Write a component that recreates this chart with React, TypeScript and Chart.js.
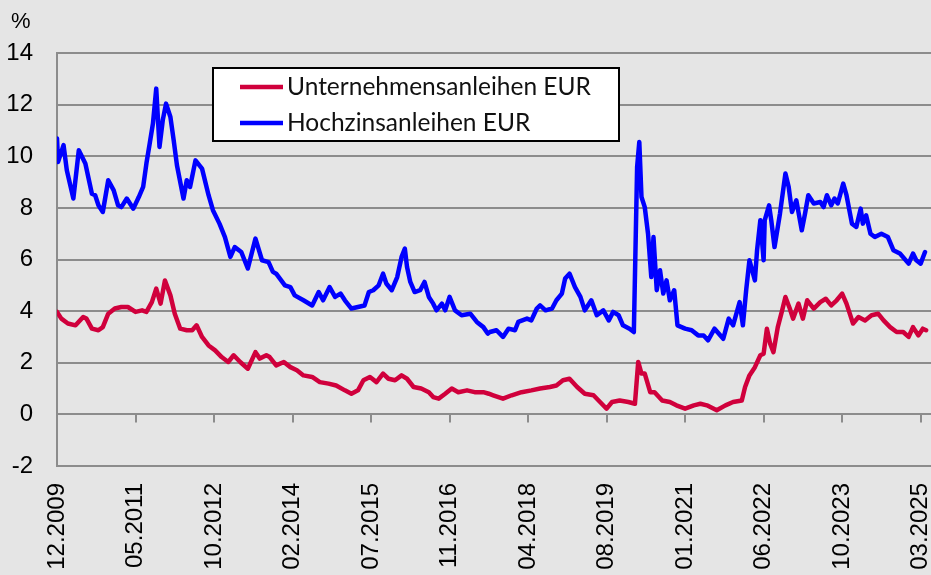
import React, { useEffect, useRef } from "react";
import { Chart, registerables } from "chart.js";

Chart.register(...registerables);

// x axis: weeks since 12.2009; Excel-style category ticks every 72 weeks
const tickLabels = [
  "12.2009", "05.2011", "10.2012", "02.2014", "07.2015", "11.2016",
  "04.2018", "08.2019", "01.2021", "06.2022", "10.2023", "03.2025",
];
const weeksPerTick = 72;
const xMax = 801.5;

const yTicksMin = -2;
const yTicksMax = 14;
const yStep = 2;

const corpLabel = "Unternehmensanleihen EUR";
const hyLabel = "Hochzinsanleihen EUR";

const hyWeeks = [
  0, 1, 6, 9, 15, 20, 26, 32, 35, 38,
  42, 47, 52, 56, 59, 64, 70, 75, 79, 82,
  85, 88, 91, 94, 97, 100, 104, 107, 110, 116,
  119, 122, 127, 133, 139, 143, 149, 154, 159, 163,
  169, 175, 182, 188, 194, 198, 201, 209, 214, 218,
  226, 234, 240, 244, 250, 255, 260, 264, 270, 276,
  282, 286, 290, 295, 299, 302, 307, 312, 316, 319,
  321, 324, 328, 333, 337, 341, 345, 348, 353, 356,
  360, 365, 371, 379, 385, 391, 395, 397, 403, 409,
  414, 420, 423, 431, 435, 440, 443, 448, 454, 458,
  463, 466, 470, 475, 480, 484, 490, 495, 501, 506,
  510, 515, 519, 525, 529, 532, 534, 536, 539, 542,
  545, 547, 550, 553, 556, 559, 562, 566, 569, 576,
  582, 588, 593, 597, 603, 611, 616, 620, 626, 629,
  632, 635, 640, 642, 645, 648, 649, 653, 655, 658,
  663, 668, 671, 674, 678, 683, 686, 689, 694, 700,
  703, 706, 710, 713, 716, 721, 724, 729, 733, 737,
  739, 742, 746, 750, 756, 762, 767, 773, 781, 785,
  788, 792, 796,
];
const hyValues = [
  10.69, 9.78, 10.43, 9.46, 8.36, 10.23, 9.72, 8.55, 8.49, 8.1,
  7.84, 9.07, 8.68, 8.1, 8.03, 8.36, 7.97, 8.42, 8.81, 9.72,
  10.49, 11.27, 12.62, 10.36, 11.4, 12.04, 11.52, 10.62, 9.65, 8.36,
  9.07, 8.81, 9.84, 9.52, 8.49, 7.91, 7.39, 6.87, 6.1, 6.48,
  6.29, 5.65, 6.81, 5.97, 5.9, 5.52, 5.45, 5.0, 4.93, 4.61,
  4.42, 4.22, 4.74, 4.42, 4.93, 4.55, 4.68, 4.42, 4.1, 4.16,
  4.22, 4.74, 4.81, 5.0, 5.45, 5.07, 4.81, 5.32, 6.1, 6.42,
  5.71, 5.13, 4.74, 4.81, 5.13, 4.55, 4.29, 4.03, 4.29, 4.03,
  4.55, 4.03, 3.84, 3.9, 3.58, 3.38, 3.13, 3.19, 3.26, 3.0,
  3.32, 3.26, 3.58, 3.71, 3.64, 4.1, 4.22, 4.03, 4.1, 4.42,
  4.68, 5.26, 5.45, 4.93, 4.55, 4.03, 4.42, 3.84, 4.03, 3.64,
  3.97, 3.84, 3.45, 3.32, 3.19, 9.59, 10.55, 8.42, 8.03, 7.0,
  5.32, 6.87, 4.81, 5.58, 4.68, 5.19, 4.42, 4.81, 3.45, 3.32,
  3.26, 3.06, 3.06, 2.87, 3.32, 2.93, 3.71, 3.45, 4.35, 3.45,
  4.81, 5.97, 5.19, 6.36, 7.52, 5.97, 7.52, 8.1, 7.52, 6.48,
  7.78, 9.33, 8.81, 7.84, 8.29, 7.13, 7.78, 8.49, 8.17, 8.23,
  8.03, 8.49, 8.1, 8.36, 8.17, 8.94, 8.49, 7.39, 7.26, 7.97,
  7.39, 7.71, 7.0, 6.87, 7.0, 6.87, 6.36, 6.23, 5.84, 6.23,
  5.97, 5.84, 6.29,
];

const corpWeeks = [
  0, 4, 10, 17, 24, 27, 32, 38, 42, 47,
  53, 59, 65, 72, 78, 82, 87, 91, 95, 99,
  104, 108, 113, 119, 124, 128, 133, 139, 145, 151,
  157, 162, 168, 175, 182, 186, 192, 195, 201, 208,
  214, 220, 226, 234, 241, 249, 256, 264, 270, 276,
  281, 287, 293, 299, 304, 310, 316, 321, 327, 334,
  341, 345, 350, 356, 362, 368, 376, 383, 391, 396,
  400, 409, 417, 426, 435, 443, 452, 458, 464, 470,
  477, 484, 492, 498, 504, 509, 516, 524, 530, 533,
  536, 539, 544, 548, 555, 562, 568, 576, 584, 590,
  596, 605, 613, 620, 628, 631, 635, 640, 645, 648,
  651, 654, 657, 661, 665, 668, 672, 675, 680, 684,
  688, 694, 700, 705, 710, 715, 720, 724, 730, 735,
  741, 747, 753, 758, 764, 770, 776, 781, 785, 790,
  794, 797,
];
const corpValues = [
  3.97, 3.71, 3.52, 3.45, 3.77, 3.71, 3.32, 3.26, 3.38, 3.9,
  4.1, 4.16, 4.16, 3.97, 4.03, 3.97, 4.35, 4.87, 4.29, 5.19,
  4.61, 3.9, 3.32, 3.26, 3.26, 3.45, 3.0, 2.67, 2.48, 2.22,
  2.03, 2.29, 2.03, 1.77, 2.41, 2.16, 2.29, 2.22, 1.9, 2.03,
  1.83, 1.71, 1.51, 1.45, 1.25, 1.19, 1.12, 0.93, 0.8, 0.93,
  1.32, 1.45, 1.25, 1.58, 1.38, 1.32, 1.51, 1.38, 1.06, 1.0,
  0.86, 0.67, 0.61, 0.8, 1.0, 0.86, 0.93, 0.86, 0.86, 0.8,
  0.74, 0.61, 0.74, 0.86, 0.93, 1.0, 1.06, 1.12, 1.32, 1.38,
  1.06, 0.8, 0.74, 0.48, 0.22, 0.48, 0.54, 0.48, 0.41, 2.03,
  1.58, 1.58, 0.86, 0.86, 0.54, 0.48, 0.35, 0.22, 0.35, 0.41,
  0.35, 0.16, 0.35, 0.48, 0.54, 1.06, 1.51, 1.83, 2.29, 2.35,
  3.32, 2.74, 2.41, 3.38, 4.03, 4.55, 4.1, 3.71, 4.29, 3.71,
  4.42, 4.1, 4.35, 4.48, 4.22, 4.42, 4.68, 4.29, 3.52, 3.77,
  3.64, 3.84, 3.9, 3.64, 3.38, 3.19, 3.19, 3.0, 3.38, 3.06,
  3.32, 3.26,
];

const RED = "#d0003c";
const BLUE = "#0000ff";
const GRID = "#8c8c8c";
const BG = "#e5e5e5";
const AXIS_FONT = "Liberation Sans";
const LEGEND_FONT = "Lato";

export default function App() {
  const ref = useRef<HTMLCanvasElement>(null);

  useEffect(() => {
    const canvas = ref.current;
    if (!canvas) return;

    const bgPlugin = {
      id: "bgFill",
      beforeDraw(chart: any) {
        const ctx = chart.ctx;
        ctx.save();
        ctx.fillStyle = BG;
        ctx.fillRect(0, 0, chart.width, chart.height);
        ctx.restore();
      },
    };

    const zeroTicksPlugin = {
      id: "zeroTicks",
      beforeDatasetsDraw(chart: any) {
        const ctx = chart.ctx;
        const xs = chart.scales.x;
        const ys = chart.scales.y;
        const y0 = ys.getPixelForValue(0);
        ctx.save();
        ctx.strokeStyle = GRID;
        ctx.lineWidth = 2;
        xs.ticks.forEach((t: any) => {
          if (t.value === 0) return;
          const px = Math.round(xs.getPixelForValue(t.value));
          ctx.beginPath();
          ctx.moveTo(px, y0);
          ctx.lineTo(px, y0 + 8);
          ctx.stroke();
        });
        ctx.restore();
      },
    };

    const overlayPlugin = {
      id: "overlay",
      afterDraw(chart: any) {
        const ctx = chart.ctx;
        ctx.save();
        // unit label
        ctx.fillStyle = "#000";
        ctx.font = `22px "${AXIS_FONT}"`;
        ctx.textBaseline = "alphabetic";
        ctx.textAlign = "left";
        ctx.fillText("%", 11, 28);

        // legend box
        const bx = 213, by = 68, bw = 406, bh = 73;
        ctx.fillStyle = "#ffffff";
        ctx.fillRect(bx, by, bw, bh);
        ctx.strokeStyle = "#000";
        ctx.lineWidth = 2;
        ctx.strokeRect(bx, by, bw, bh);

        const rows = [87, 123];
        chart.data.datasets.forEach((ds: any, i: number) => {
          const yy = rows[i];
          ctx.strokeStyle = ds.borderColor;
          ctx.lineWidth = 4.5;
          ctx.beginPath();
          ctx.moveTo(240, yy);
          ctx.lineTo(283, yy);
          ctx.stroke();
          ctx.fillStyle = "#111";
          ctx.font = `24.5px "${LEGEND_FONT}"`;
          ctx.textBaseline = "alphabetic";
          ctx.fillText(ds.label, 287, yy + 8);
        });
        ctx.restore();
      },
    };

    const chart = new Chart(canvas, {
      type: "line",
      data: {
        datasets: [
          {
            label: corpLabel,
            data: corpWeeks.map((w, i) => ({ x: w, y: corpValues[i] })),
            borderColor: RED,
            backgroundColor: RED,
            borderWidth: 4.5,
            pointRadius: 0,
            tension: 0,
            borderJoinStyle: "round",
            borderCapStyle: "round",
          },
          {
            label: hyLabel,
            data: hyWeeks.map((w, i) => ({ x: w, y: hyValues[i] })),
            borderColor: BLUE,
            backgroundColor: BLUE,
            borderWidth: 4.5,
            pointRadius: 0,
            tension: 0,
            borderJoinStyle: "round",
            borderCapStyle: "round",
          },
        ],
      },
      options: {
        responsive: false,
        devicePixelRatio: 1,
        animation: false,
        events: [],
        layout: { padding: { top: 53, bottom: 0, left: 0, right: 0 } },
        plugins: {
          legend: { display: false },
          tooltip: { enabled: false },
          title: { display: false },
        },
        scales: {
          x: {
            type: "linear",
            min: 0,
            max: xMax,
            grid: { display: false, drawTicks: false },
            border: { display: false },
            ticks: {
              autoSkip: false,
              minRotation: 90,
              maxRotation: 90,
              padding: 17,
              color: "#000",
              font: { size: 24, family: AXIS_FONT },
              callback: (v: any) => tickLabels[Math.round(Number(v) / weeksPerTick)] ?? "",
            },
            afterBuildTicks: (s: any) => {
              s.ticks = tickLabels.map((_, i) => ({ value: i * weeksPerTick }));
            },
            afterFit: (s: any) => {
              s.paddingLeft = 0;
              s.paddingRight = 0;
              s.height = 109;
            },
          } as any,
          y: {
            min: yTicksMin,
            max: yTicksMax,
            ticks: {
              stepSize: yStep,
              padding: 24,
              color: "#000",
              font: { size: 24, family: AXIS_FONT },
            },
            grid: { color: GRID, lineWidth: 2, drawTicks: false },
            border: { display: true, color: GRID, width: 2 },
            afterFit: (s: any) => {
              s.width = 57;
              s.paddingTop = 0;
              s.paddingBottom = 0;
            },
          } as any,
        },
      } as any,
      plugins: [bgPlugin, zeroTicksPlugin, overlayPlugin],
    });

    return () => chart.destroy();
  }, []);

  return (
    <div style={{ position: "absolute", left: 0, top: 0, width: 931, height: 575, overflow: "hidden" }}>
      <canvas ref={ref} width={931} height={575} style={{ display: "block" }} />
    </div>
  );
}
